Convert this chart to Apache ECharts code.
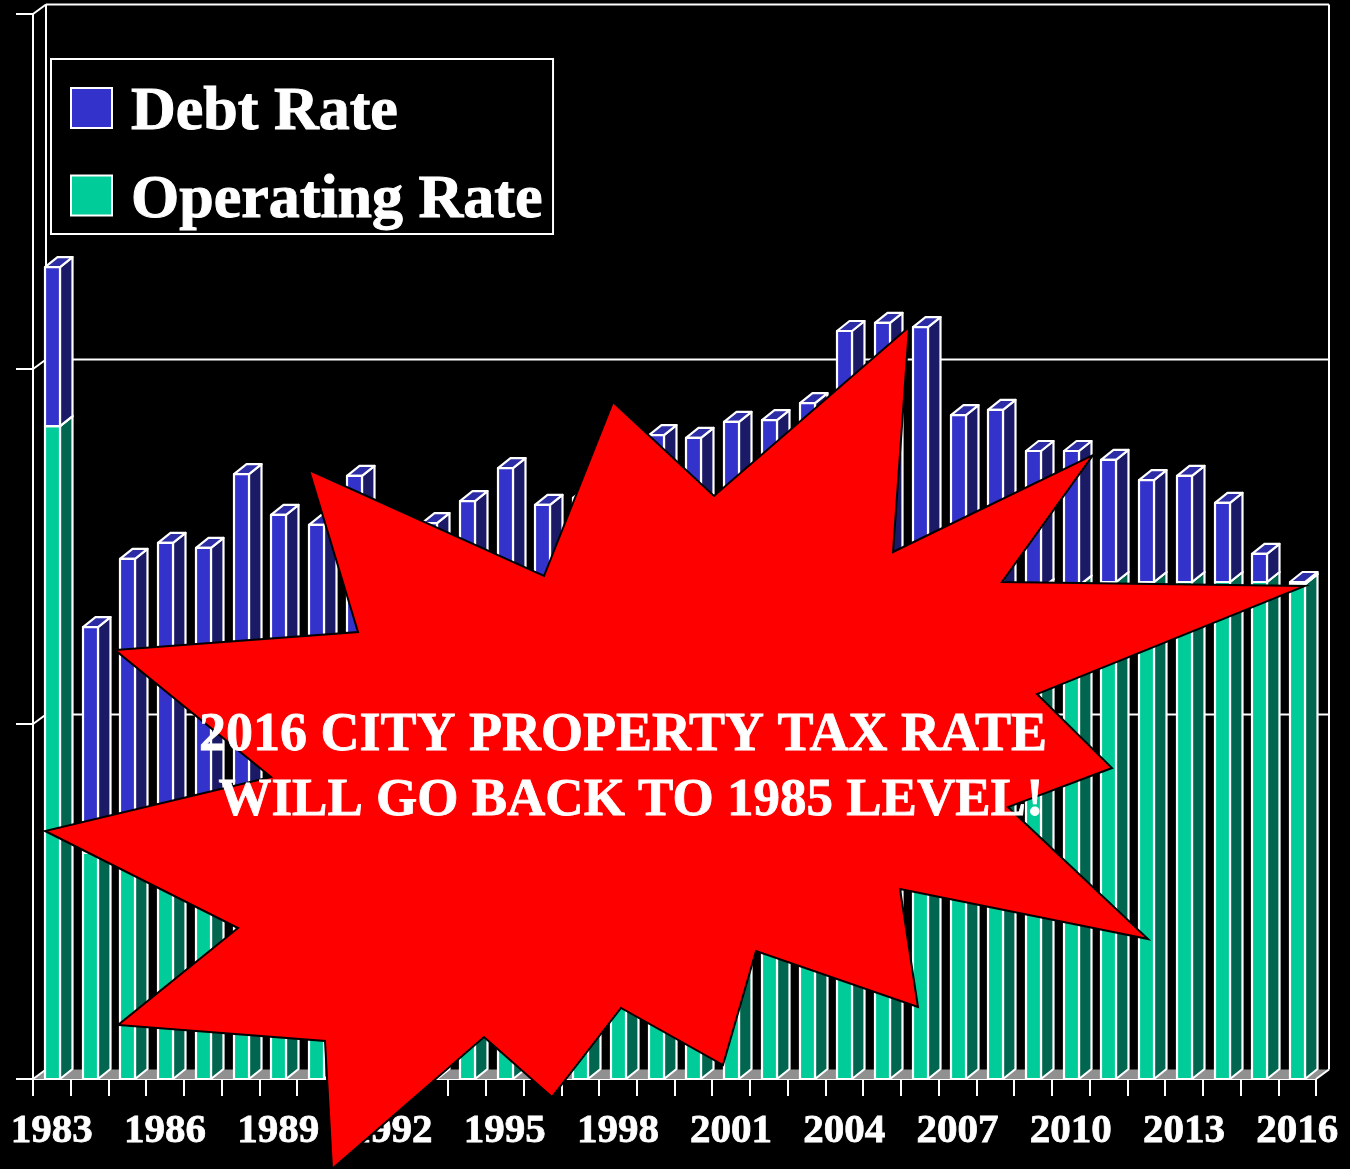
<!DOCTYPE html>
<html>
<head>
<meta charset="utf-8">
<title>City Property Tax Rate</title>
<script src="https://cdn.jsdelivr.net/npm/echarts@6/dist/echarts.min.js"></script>
<style>
  html, body { margin: 0; padding: 0; background: #000; }
  #chart { width: 1350px; height: 1169px; }
</style>
</head>
<body>
<div id="chart"></div>
<script>
'use strict';

var years = ['1983', '1984', '1985', '1986', '1987', '1988', '1989', '1990', '1991', '1992', '1993', '1994',
  '1995', '1996', '1997', '1998', '1999', '2000', '2001', '2002', '2003', '2004', '2005', '2006', '2007',
  '2008', '2009', '2010', '2011', '2012', '2013', '2014', '2015', '2016'];

// most of the 1985-2010 operating values sit behind the star, those are estimates
var operatingRate = [18.39, 6.37, 6.50, 6.60, 6.70, 7.05, 7.40, 7.70, 8.20, 8.50, 9.00, 9.30,
  9.60, 10.00, 10.20, 10.40, 10.70, 10.90, 11.10, 11.30, 11.60, 12.00, 12.40, 12.90, 13.20,
  13.40, 13.80, 13.90, 14.00, 14.00, 14.00, 14.00, 14.00, 13.94];

var debtRate = [4.48, 6.36, 8.15, 8.50, 8.26, 9.99, 8.49, 7.91, 8.79, 6.96, 6.66, 6.98,
  7.61, 6.17, 6.17, 7.54, 7.44, 7.16, 7.41, 7.26, 7.44, 9.07, 8.90, 8.28, 5.50,
  5.45, 3.89, 3.79, 3.44, 2.87, 2.99, 2.23, 0.79, 0.06];

var wallTicks = [0, 10, 20, 30];

var noteLines = ['2016 CITY PROPERTY TAX RATE', 'WILL GO BACK TO 1985 LEVEL!'];

var serif = '"Liberation Serif", "Times New Roman", serif';
var DEPTH_X = 13;
var DEPTH_Y = 9.5;
var WHITE = '#fff';

// back walls, floor and grid lines, one item per y tick
function renderWall(params, api) {
  var rect = params.coordSys;
  var y = api.coord([0, api.value(0)])[1];
  var left = rect.x;
  var right = rect.x + rect.width;
  var line = { stroke: WHITE, lineWidth: 2 };
  var children = [];

  if (api.value(0) === 0) {
    children.push({
      type: 'polygon',
      shape: { points: [[left, y], [left + DEPTH_X, y - DEPTH_Y], [right + DEPTH_X, y - DEPTH_Y], [right, y]] },
      style: { fill: '#909090' }
    });
    children.push({
      type: 'line',
      shape: { x1: right, y1: y, x2: right + DEPTH_X, y2: y - DEPTH_Y },
      style: line
    });
  } else {
    children.push({
      type: 'line',
      shape: { x1: left + DEPTH_X, y1: y - DEPTH_Y, x2: right + DEPTH_X, y2: y - DEPTH_Y },
      style: line
    });
  }
  if (api.value(0) === 30) {
    var bottom = rect.y + rect.height - DEPTH_Y;
    children.push({
      type: 'line',
      shape: { x1: left + DEPTH_X, y1: y - DEPTH_Y, x2: left + DEPTH_X, y2: bottom },
      style: line
    });
    children.push({
      type: 'line',
      shape: { x1: right + DEPTH_X, y1: y - DEPTH_Y, x2: right + DEPTH_X, y2: bottom },
      style: line
    });
  }
  children.push({
    type: 'line',
    shape: { x1: left, y1: y, x2: left + DEPTH_X, y2: y - DEPTH_Y },
    style: line
  });
  return { type: 'group', children: children };
}

// one 3d bar segment: front face, side face, top face
function barRenderer(frontColor, sideColor, topColor) {
  return function (params, api) {
    var center = api.coord([api.value(0), 0])[0];
    var low = api.coord([api.value(0), api.value(1)])[1];
    var high = api.coord([api.value(0), api.value(2)])[1];
    var x1 = Math.round(center - 7);
    var x2 = x1 + 15;
    var dx = 12.5;
    var dy = 10;
    var edge = { stroke: WHITE, lineWidth: 2.2, lineJoin: 'round' };
    return {
      type: 'group',
      children: [{
        type: 'polygon',
        shape: { points: [[x2, low], [x2 + dx, low - dy], [x2 + dx, high - dy], [x2, high]] },
        style: Object.assign({ fill: sideColor }, edge)
      }, {
        type: 'polygon',
        shape: { points: [[x1, high], [x1 + dx, high - dy], [x2 + dx, high - dy], [x2, high]] },
        style: Object.assign({ fill: topColor }, edge)
      }, {
        type: 'rect',
        shape: { x: x1, y: high, width: x2 - x1, height: low - high },
        style: Object.assign({ fill: frontColor }, edge)
      }]
    };
  };
}

var operatingData = years.map(function (year, i) {
  return [year, 0, operatingRate[i]];
});
var debtData = years.map(function (year, i) {
  return [year, operatingRate[i], operatingRate[i] + debtRate[i]];
});

var chart = echarts.init(document.getElementById('chart'));

chart.setOption({
  backgroundColor: '#000',
  animation: false,
  grid: { left: 33, right: 34, top: 14, bottom: 90 },
  legend: {
    left: 51,
    top: 59,
    orient: 'vertical',
    data: ['Debt Rate', 'Operating Rate'],
    icon: 'rect',
    itemWidth: 41,
    itemHeight: 40,
    itemGap: 15,
    padding: [13, 10, 2, 19],
    borderColor: WHITE,
    borderWidth: 2,
    selectedMode: false,
    itemStyle: { borderColor: WHITE, borderWidth: 2 },
    formatter: '{t|{name}}',
    textStyle: {
      rich: {
        t: {
          color: WHITE,
          fontFamily: serif,
          fontWeight: 'bold',
          fontSize: 62,
          lineHeight: 62,
          padding: [10, 0, 0, 14],
          textBorderColor: WHITE,
          textBorderWidth: 1
        }
      }
    }
  },
  xAxis: {
    type: 'category',
    data: years,
    boundaryGap: true,
    axisLine: { lineStyle: { color: WHITE, width: 2 } },
    axisTick: { show: true, interval: 0, length: 17, lineStyle: { color: WHITE, width: 2 } },
    axisLabel: {
      interval: 2,
      color: WHITE,
      fontFamily: serif,
      fontWeight: 'bold',
      fontSize: 41,
      margin: 32,
      textBorderColor: WHITE,
      textBorderWidth: 0.8
    }
  },
  yAxis: {
    type: 'value',
    min: 0,
    max: 30,
    interval: 10,
    axisLine: { show: true, lineStyle: { color: WHITE, width: 2 } },
    axisTick: { show: true, length: 17, lineStyle: { color: WHITE, width: 2 } },
    axisLabel: { show: false },
    splitLine: { show: false }
  },
  series: [{
    name: 'walls',
    type: 'custom',
    clip: false,
    z: 1,
    silent: true,
    renderItem: renderWall,
    encode: { y: 0 },
    data: wallTicks.map(function (t) { return [t]; })
  }, {
    name: 'Operating Rate',
    type: 'custom',
    clip: false,
    z: 2,
    itemStyle: { color: '#00cc99' },
    renderItem: barRenderer('#00cc99', '#006650', '#00a37a'),
    encode: { x: 0, y: [1, 2] },
    data: operatingData
  }, {
    name: 'Debt Rate',
    type: 'custom',
    clip: false,
    z: 3,
    itemStyle: { color: '#3333cc' },
    renderItem: barRenderer('#3333cc', '#1a1a66', '#2d2da6'),
    encode: { x: 0, y: [1, 2] },
    data: debtData
  }],
  graphic: [{
    type: 'polygon',
    z: 100,
    silent: true,
    shape: {
      points: [[309, 470], [544, 576], [613, 402], [714, 496], [909, 327], [893, 552], [1093, 455],
        [1002, 582], [1305, 586], [1037, 694], [1112, 768], [1008, 807], [1148, 939], [900, 889],
        [918, 1007], [756, 951], [723, 1065], [621, 1008], [552, 1097], [484, 1037], [332, 1169],
        [325, 1041], [118, 1025], [238, 928], [45, 831], [271, 777], [115, 650], [358, 632]]
    },
    style: { fill: '#ff0000', stroke: '#000', lineWidth: 2 }
  }, {
    type: 'text',
    z: 101,
    silent: true,
    x: 623,
    y: 736,
    style: {
      text: noteLines[0],
      fill: WHITE,
      stroke: WHITE,
      lineWidth: 0.8,
      font: 'bold 54px ' + serif,
      textAlign: 'center',
      textVerticalAlign: 'middle'
    }
  }, {
    type: 'text',
    z: 101,
    silent: true,
    x: 631,
    y: 801,
    style: {
      text: noteLines[1],
      fill: WHITE,
      stroke: WHITE,
      lineWidth: 0.8,
      font: 'bold 53px ' + serif,
      textAlign: 'center',
      textVerticalAlign: 'middle'
    }
  }]
});
</script>
</body>
</html>
